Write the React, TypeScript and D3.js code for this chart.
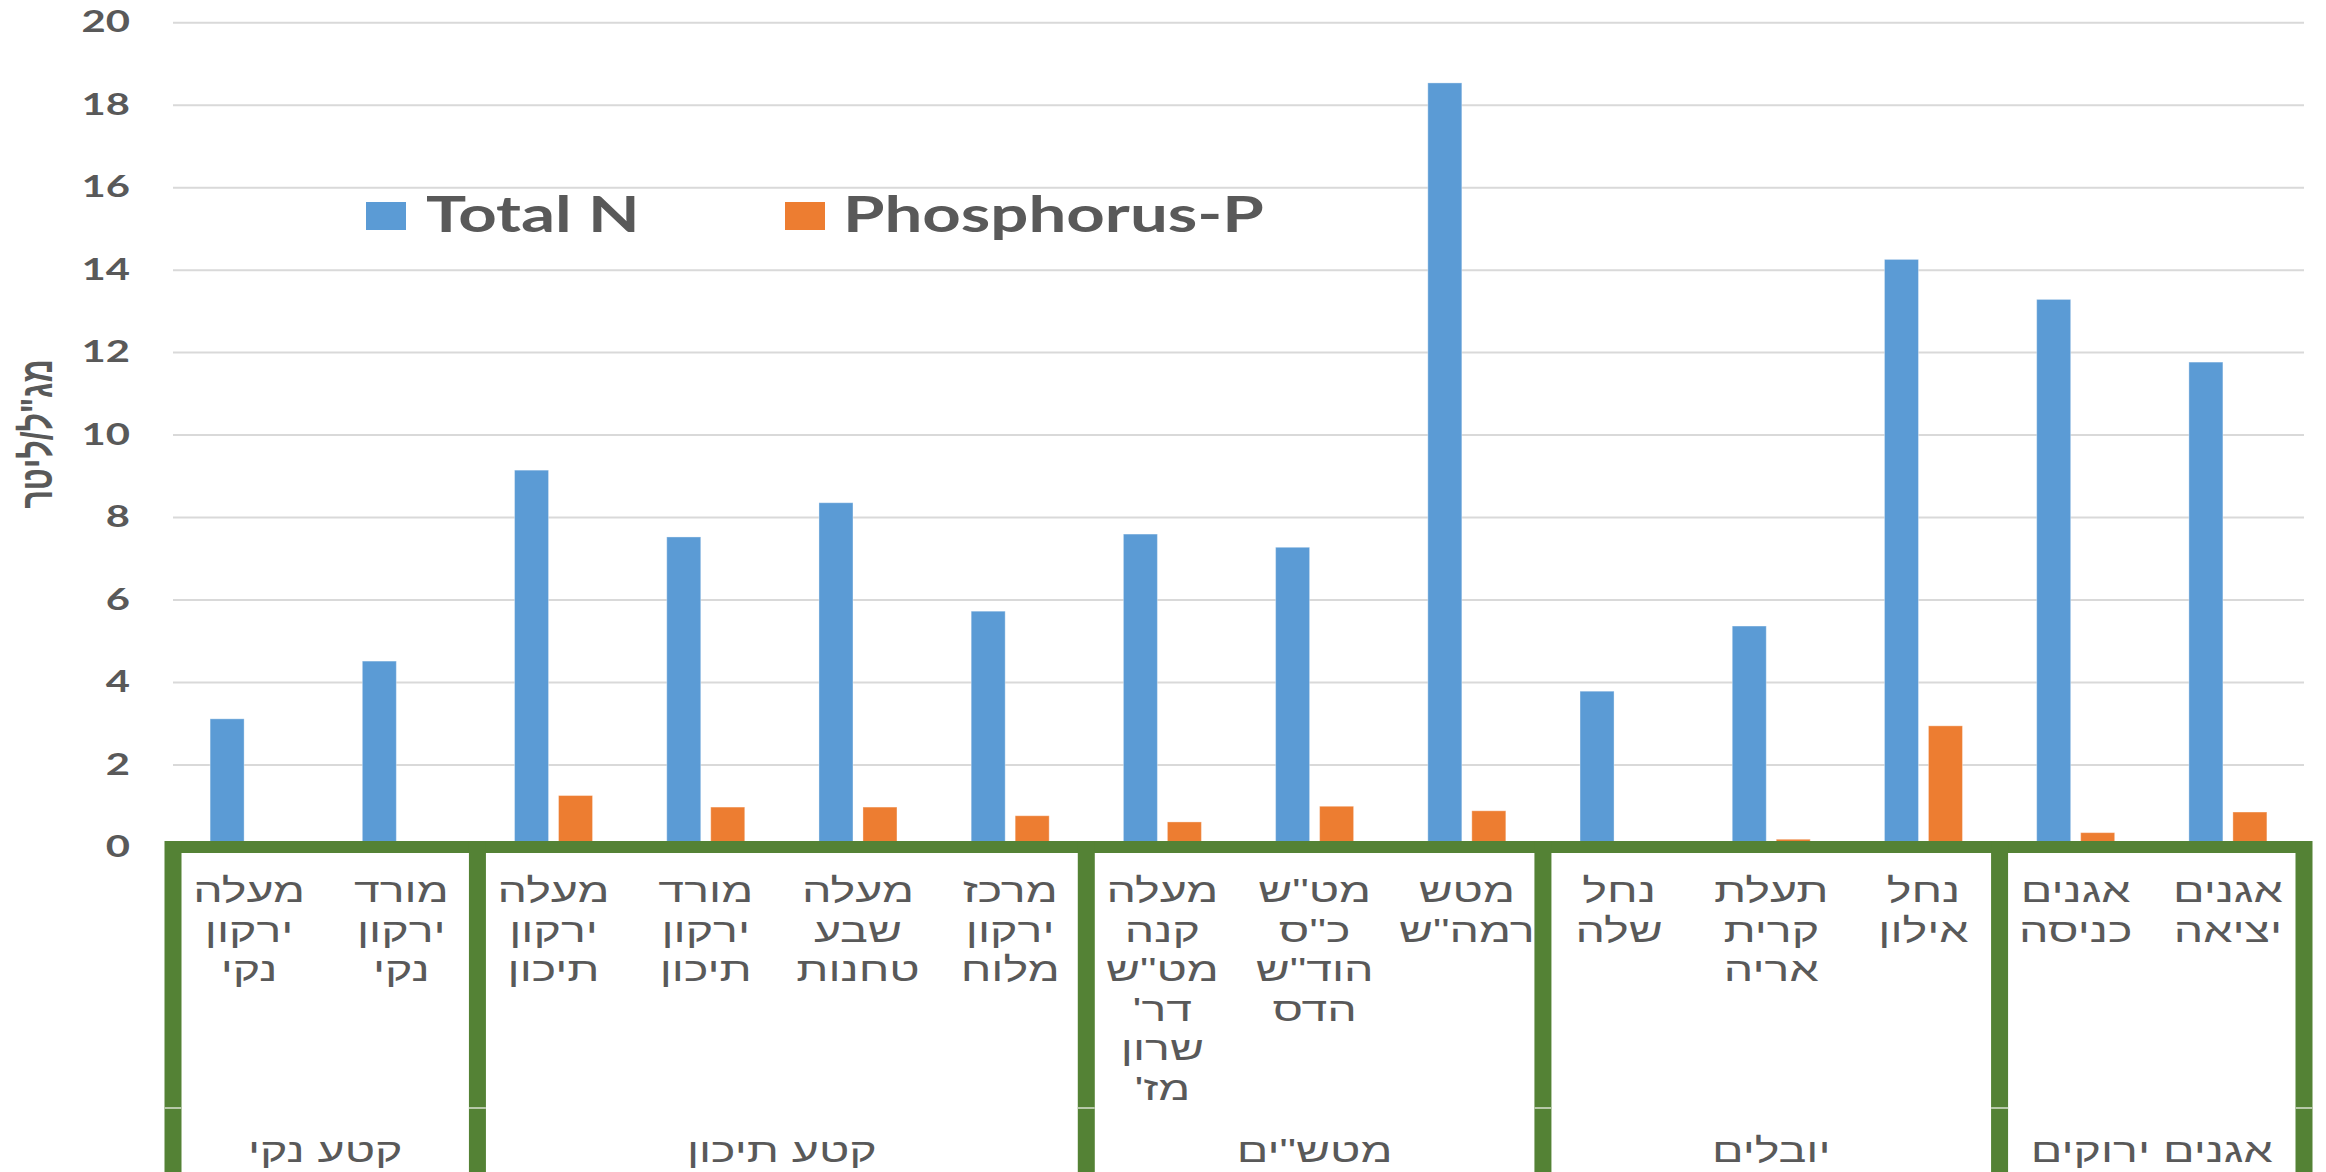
import React from 'react';
import * as d3 from 'd3';

const categoryLines: string[][] = [
  ['מעלה', 'ירקון', 'נקי'],
  ['מורד', 'ירקון', 'נקי'],
  ['מעלה', 'ירקון', 'תיכון'],
  ['מורד', 'ירקון', 'תיכון'],
  ['מעלה', 'שבע', 'טחנות'],
  ['מרכז', 'ירקון', 'מלוח'],
  ['מעלה', 'קנה', 'מט"ש', "דר'", 'שרון', "מז'"],
  ['מט"ש', 'כ"ס', 'הוד"ש', 'הדס'],
  ['מטש', 'רמה"ש'],
  ['נחל', 'שלה'],
  ['תעלת', 'קרית', 'אריה'],
  ['נחל', 'אילון'],
  ['אגנים', 'כניסה'],
  ['אגנים', 'יציאה'],
];
const totalN = [3.12, 4.52, 9.15, 7.53, 8.36, 5.73, 7.6, 7.28, 18.54, 3.79, 5.37, 14.26, 13.29, 11.77];
const phosphorusP = [0, 0, 1.26, 0.98, 0.98, 0.77, 0.62, 1.0, 0.89, 0, 0.2, 2.95, 0.36, 0.86];
const groupNames = ['קטע נקי', 'קטע תיכון', 'מטש"ים', 'יובלים', 'אגנים ירוקים'];
const groupSizes = [2, 4, 3, 3, 2];
const yTicks = [0, 2, 4, 6, 8, 10, 12, 14, 16, 18, 20];
const seriesNames = ['Total N', 'Phosphorus-P'];
const seriesColors = ['#5b9bd5', '#ed7d31'];
const yTitle = 'מג"ל/ליטר';

const W = 2326;
const H = 1172;
const SX = 1.37;
const GREEN = '#548235';
const TXT = '#595959';
const LATIN = "Lato, 'Liberation Sans', sans-serif";
const HEB = "'Liberation Sans', Arial, sans-serif";

const keys = categoryLines.map((c, i) => i + ':' + c.join(' '));

export default function App() {
  const x0 = d3.scaleBand<string>().domain(keys).range([173, 2304]).paddingInner(0).paddingOuter(0);
  const bw = x0.bandwidth();
  const groupW = 78;
  const x1 = d3.scaleBand<string>().domain(['n', 'p']).range([0, groupW]).paddingInner(0.227).paddingOuter(0);
  const off = (bw - groupW) / 2;
  const y = d3.scaleLinear().domain([0, 20]).range([847.5, 22.7]);

  const cum = [0];
  groupSizes.forEach((s) => cum.push(cum[cum.length - 1] + s));
  const boundaries = cum.map((c) => 173 + c * bw);

  const series = [totalN, phosphorusP];

  return (
    <svg width={W} height={H} style={{ position: 'absolute', left: 0, top: 0, display: 'block', background: '#fff' }}>
      <rect x={0} y={0} width={W} height={H} fill="#fff" />
      {/* gridlines */}
      {yTicks.map((t) => (
        <line key={'g' + t} x1={173} x2={2304} y1={y(t)} y2={y(t)} stroke="#d9d9d9" strokeWidth={2} />
      ))}
      {/* y tick labels */}
      {yTicks.map((t) => (
        <text
          key={'t' + t}
          transform={`translate(130,${y(t) + 9.6}) scale(${SX},1)`}
          textAnchor="end"
          fontFamily={LATIN}
          fontWeight={700}
          fontSize={30.5}
          fill={TXT}
        >
          {t}
        </text>
      ))}
      {/* y title */}
      <text
        transform={`translate(52,434) scale(${SX},1) rotate(-90)`}
        textAnchor="middle"
        direction="rtl"
        fontFamily={HEB}
        fontWeight={700}
        fontSize={32}
        fill={TXT}
      >
        {yTitle}
      </text>
      {/* bars */}
      {keys.map((k, i) => (
        <g key={'b' + k} transform={`translate(${(x0(k) as number) + off},0)`}>
          {series.map((s, j) =>
            s[i] > 0 ? (
              <rect
                key={j}
                x={x1(j === 0 ? 'n' : 'p')}
                width={x1.bandwidth()}
                y={y(s[i])}
                height={y(0) - y(s[i])}
                fill={seriesColors[j]}
                stroke="#ffffff"
                strokeOpacity={0.35}
                strokeWidth={1}
              />
            ) : null
          )}
        </g>
      ))}
      {/* legend */}
      <rect x={366} y={202} width={40} height={28} fill={seriesColors[0]} />
      <text transform={`translate(426,232) scale(${SX},1)`} fontFamily={LATIN} fontWeight={700} fontSize={49} fill={TXT}>
        {seriesNames[0]}
      </text>
      <rect x={785} y={202} width={40} height={28} fill={seriesColors[1]} />
      <text transform={`translate(843,232) scale(${SX},1)`} fontFamily={LATIN} fontWeight={700} fontSize={49} fill={TXT}>
        {seriesNames[1]}
      </text>
      {/* category axis green frame */}
      <rect x={166} y={841} width={2312 - 166} height={12} fill={GREEN} />
      {boundaries.map((b, i) => (
        <rect key={'v' + i} x={b - 8.5} y={841} width={17} height={H - 841 + 10} fill={GREEN} />
      ))}
      {boundaries.map((b, i) => (
        <line key={'h' + i} x1={b - 8.5} x2={b + 8.5} y1={1108} y2={1108} stroke="#b7c9a9" strokeWidth={2} />
      ))}
      {/* level 1 labels */}
      {keys.map((k, i) => (
        <g key={'l' + k}>
          {categoryLines[i].map((ln, li) => (
            <text
              key={li}
              transform={`translate(${(x0(k) as number) + bw / 2},${902 + li * 39.5}) scale(${SX},1)`}
              textAnchor="middle"
              direction="rtl"
              fontFamily={HEB}
              fontSize={34}
              fill={TXT}
            >
              {ln}
            </text>
          ))}
        </g>
      ))}
      {/* level 2 labels */}
      {groupNames.map((g, i) => (
        <text
          key={'grp' + i}
          transform={`translate(${(boundaries[i] + boundaries[i + 1]) / 2},1162) scale(${SX},1)`}
          textAnchor="middle"
          direction="rtl"
          fontFamily={HEB}
          fontSize={34}
          fill={TXT}
        >
          {g}
        </text>
      ))}
    </svg>
  );
}
